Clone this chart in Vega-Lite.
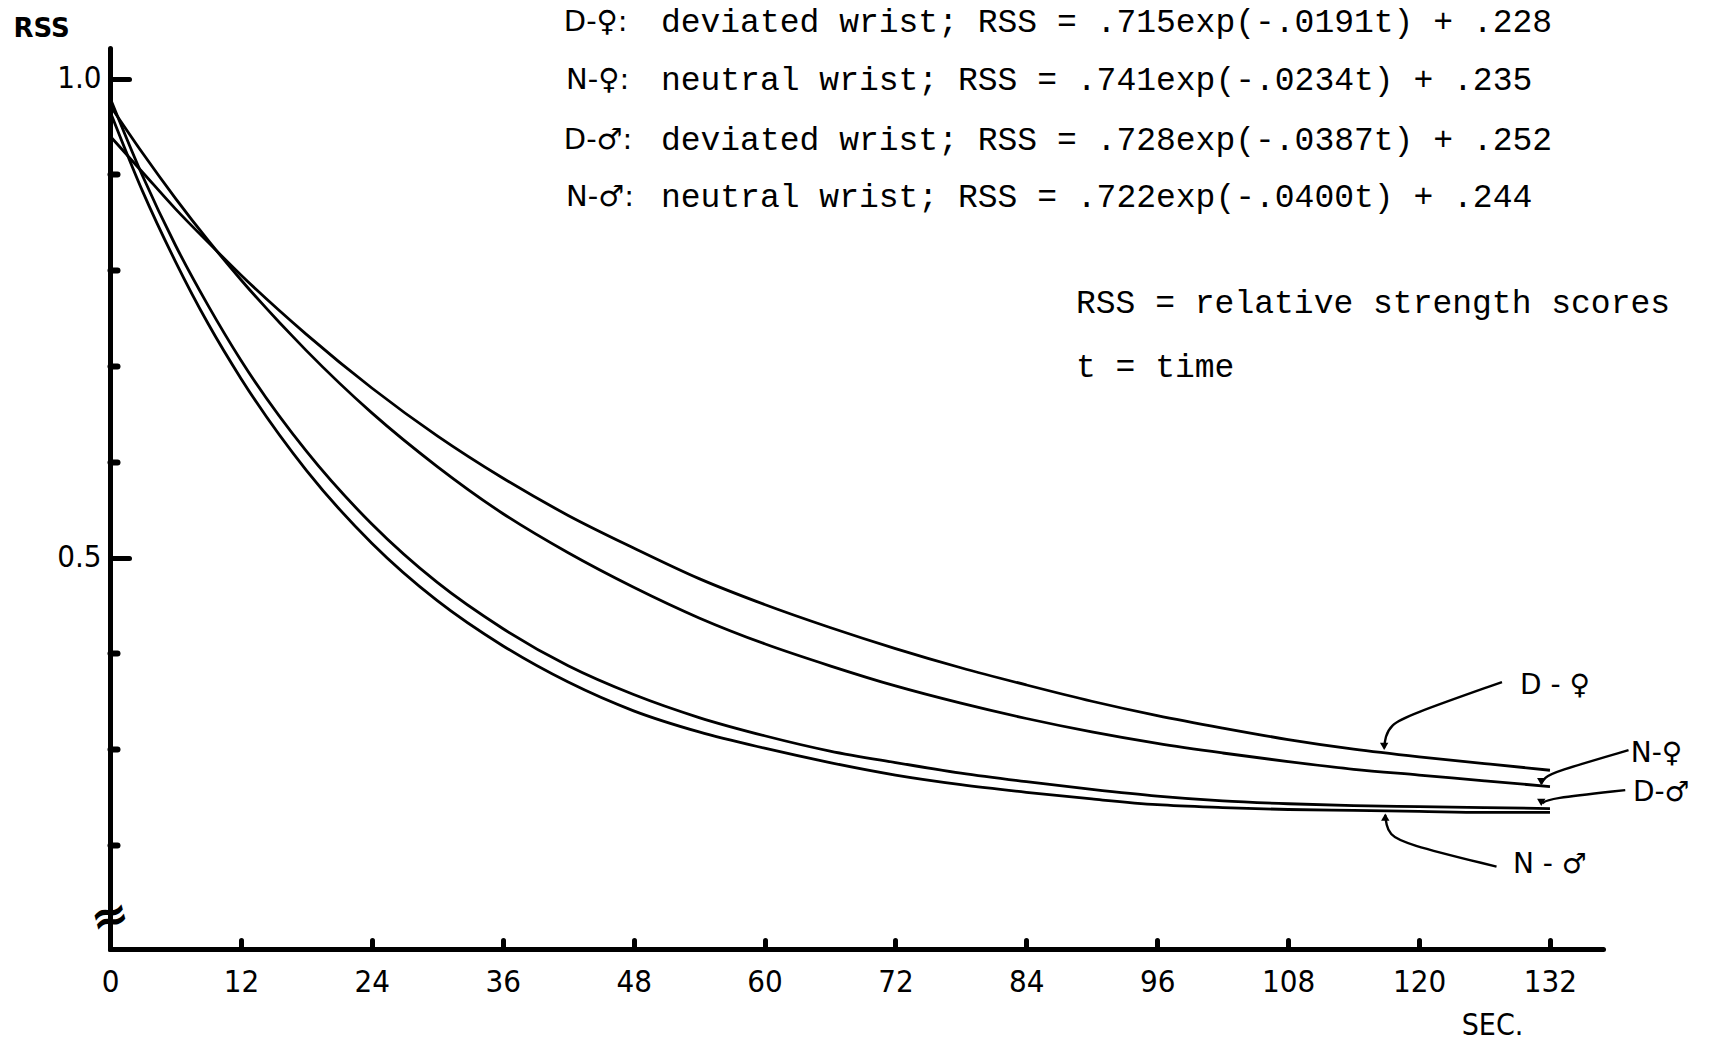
{
  "$schema": "https://vega.github.io/schema/vega-lite/v6.json",
  "autosize": {"type": "none"},
  "width": 1493,
  "height": 901,
  "padding": {"left": 110, "top": 48, "right": 108, "bottom": 92},
  "background": "white",
  "config": {"view": {"stroke": null}},
  "datasets": {
    "curves": [
      {"series": "D-F", "t": 0, "rss": 0.940}, {"series": "D-F", "t": 3, "rss": 0.902}, {"series": "D-F", "t": 6, "rss": 0.864}, {"series": "D-F", "t": 9, "rss": 0.829}, {"series": "D-F", "t": 12, "rss": 0.795}, {"series": "D-F", "t": 18, "rss": 0.733}, {"series": "D-F", "t": 24, "rss": 0.677}, {"series": "D-F", "t": 30, "rss": 0.627}, {"series": "D-F", "t": 36, "rss": 0.583}, {"series": "D-F", "t": 42, "rss": 0.544}, {"series": "D-F", "t": 48, "rss": 0.510}, {"series": "D-F", "t": 54, "rss": 0.478}, {"series": "D-F", "t": 60, "rss": 0.451}, {"series": "D-F", "t": 66, "rss": 0.427}, {"series": "D-F", "t": 72, "rss": 0.405}, {"series": "D-F", "t": 78, "rss": 0.385}, {"series": "D-F", "t": 84, "rss": 0.367}, {"series": "D-F", "t": 90, "rss": 0.350}, {"series": "D-F", "t": 96, "rss": 0.335}, {"series": "D-F", "t": 102, "rss": 0.322}, {"series": "D-F", "t": 108, "rss": 0.310}, {"series": "D-F", "t": 114, "rss": 0.300}, {"series": "D-F", "t": 120, "rss": 0.292}, {"series": "D-F", "t": 126, "rss": 0.285}, {"series": "D-F", "t": 132, "rss": 0.278},
      {"series": "N-F", "t": 0, "rss": 0.972}, {"series": "N-F", "t": 3, "rss": 0.922}, {"series": "N-F", "t": 6, "rss": 0.875}, {"series": "N-F", "t": 9, "rss": 0.831}, {"series": "N-F", "t": 12, "rss": 0.790}, {"series": "N-F", "t": 18, "rss": 0.716}, {"series": "N-F", "t": 24, "rss": 0.651}, {"series": "N-F", "t": 30, "rss": 0.595}, {"series": "N-F", "t": 36, "rss": 0.546}, {"series": "N-F", "t": 42, "rss": 0.505}, {"series": "N-F", "t": 48, "rss": 0.469}, {"series": "N-F", "t": 54, "rss": 0.437}, {"series": "N-F", "t": 60, "rss": 0.410}, {"series": "N-F", "t": 66, "rss": 0.387}, {"series": "N-F", "t": 72, "rss": 0.366}, {"series": "N-F", "t": 78, "rss": 0.348}, {"series": "N-F", "t": 84, "rss": 0.332}, {"series": "N-F", "t": 90, "rss": 0.318}, {"series": "N-F", "t": 96, "rss": 0.306}, {"series": "N-F", "t": 102, "rss": 0.296}, {"series": "N-F", "t": 108, "rss": 0.287}, {"series": "N-F", "t": 114, "rss": 0.279}, {"series": "N-F", "t": 120, "rss": 0.273}, {"series": "N-F", "t": 126, "rss": 0.267}, {"series": "N-F", "t": 132, "rss": 0.261},
      {"series": "D-M", "t": 0, "rss": 0.980}, {"series": "D-M", "t": 3, "rss": 0.898}, {"series": "D-M", "t": 6, "rss": 0.826}, {"series": "D-M", "t": 9, "rss": 0.763}, {"series": "D-M", "t": 12, "rss": 0.706}, {"series": "D-M", "t": 18, "rss": 0.611}, {"series": "D-M", "t": 24, "rss": 0.535}, {"series": "D-M", "t": 30, "rss": 0.474}, {"series": "D-M", "t": 36, "rss": 0.426}, {"series": "D-M", "t": 42, "rss": 0.387}, {"series": "D-M", "t": 48, "rss": 0.357}, {"series": "D-M", "t": 54, "rss": 0.333}, {"series": "D-M", "t": 60, "rss": 0.314}, {"series": "D-M", "t": 66, "rss": 0.298}, {"series": "D-M", "t": 72, "rss": 0.286}, {"series": "D-M", "t": 78, "rss": 0.275}, {"series": "D-M", "t": 84, "rss": 0.266}, {"series": "D-M", "t": 90, "rss": 0.258}, {"series": "D-M", "t": 96, "rss": 0.251}, {"series": "D-M", "t": 102, "rss": 0.246}, {"series": "D-M", "t": 108, "rss": 0.243}, {"series": "D-M", "t": 114, "rss": 0.241}, {"series": "D-M", "t": 120, "rss": 0.240}, {"series": "D-M", "t": 126, "rss": 0.239}, {"series": "D-M", "t": 132, "rss": 0.238},
      {"series": "N-M", "t": 0, "rss": 0.966}, {"series": "N-M", "t": 3, "rss": 0.882}, {"series": "N-M", "t": 6, "rss": 0.809}, {"series": "N-M", "t": 9, "rss": 0.744}, {"series": "N-M", "t": 12, "rss": 0.687}, {"series": "N-M", "t": 18, "rss": 0.591}, {"series": "N-M", "t": 24, "rss": 0.515}, {"series": "N-M", "t": 30, "rss": 0.455}, {"series": "N-M", "t": 36, "rss": 0.408}, {"series": "N-M", "t": 42, "rss": 0.370}, {"series": "N-M", "t": 48, "rss": 0.340}, {"series": "N-M", "t": 54, "rss": 0.318}, {"series": "N-M", "t": 60, "rss": 0.301}, {"series": "N-M", "t": 66, "rss": 0.286}, {"series": "N-M", "t": 72, "rss": 0.273}, {"series": "N-M", "t": 78, "rss": 0.263}, {"series": "N-M", "t": 84, "rss": 0.255}, {"series": "N-M", "t": 90, "rss": 0.248}, {"series": "N-M", "t": 96, "rss": 0.242}, {"series": "N-M", "t": 102, "rss": 0.239}, {"series": "N-M", "t": 108, "rss": 0.237}, {"series": "N-M", "t": 114, "rss": 0.236}, {"series": "N-M", "t": 120, "rss": 0.235}, {"series": "N-M", "t": 126, "rss": 0.234}, {"series": "N-M", "t": 132, "rss": 0.234}
    ],
    "leaders": [
      {"leader": "D-♀", "k": 1, "t": 127.6, "rss": 0.370}, {"leader": "D-♀", "k": 2, "t": 118.9, "rss": 0.335}, {"leader": "D-♀", "k": 3, "t": 117.4, "rss": 0.325}, {"leader": "D-♀", "k": 4, "t": 116.9, "rss": 0.313}, {"leader": "D-♀", "k": 5, "t": 116.8, "rss": 0.301},
      {"leader": "N-♀", "k": 1, "t": 139.2, "rss": 0.299}, {"leader": "N-♀", "k": 2, "t": 132.3, "rss": 0.276}, {"leader": "N-♀", "k": 3, "t": 131.5, "rss": 0.270}, {"leader": "N-♀", "k": 4, "t": 131.2, "rss": 0.264},
      {"leader": "D-♂", "k": 1, "t": 138.9, "rss": 0.2573}, {"leader": "D-♂", "k": 2, "t": 131.8, "rss": 0.2485}, {"leader": "D-♂", "k": 3, "t": 131.3, "rss": 0.2434},
      {"leader": "N-♂", "k": 1, "t": 127.1, "rss": 0.1774}, {"leader": "N-♂", "k": 2, "t": 118.5, "rss": 0.2015}, {"leader": "N-♂", "k": 3, "t": 117.3, "rss": 0.2115}, {"leader": "N-♂", "k": 4, "t": 117.0, "rss": 0.221}, {"leader": "N-♂", "k": 5, "t": 116.9, "rss": 0.2313}
    ],
    "arrows": [
      {"leader": "D-♀", "t": 116.8, "rss": 0.303},
      {"leader": "N-♀", "t": 131.2, "rss": 0.266},
      {"leader": "D-♂", "t": 131.2, "rss": 0.2445},
      {"leader": "N-♂", "t": 116.9, "rss": 0.229}
    ],
    "prefixes": [
      {"text": "D-♀:", "t": 41.6, "rss": 1.0593},
      {"text": "N-♀:", "t": 41.8, "rss": 0.9989},
      {"text": "D-♂:", "t": 41.6, "rss": 0.9363},
      {"text": "N-♂:", "t": 41.8, "rss": 0.8760}
    ],
    "equations": [
      {"text": "deviated wrist; RSS = .715exp(-.0191t) + .228", "t": 50.5, "rss": 1.0593},
      {"text": "neutral wrist; RSS = .741exp(-.0234t) + .235", "t": 50.5, "rss": 0.9989},
      {"text": "deviated wrist; RSS = .728exp(-.0387t) + .252", "t": 50.5, "rss": 0.9363},
      {"text": "neutral wrist; RSS = .722exp(-.0400t) + .244", "t": 50.5, "rss": 0.8760},
      {"text": "RSS = relative strength scores", "t": 88.55, "rss": 0.7653},
      {"text": "t = time", "t": 88.55, "rss": 0.6994}
    ],
    "labels": [
      {"text": "D - ♀", "t": 129.25, "rss": 0.3663},
      {"text": "N-♀", "t": 139.4, "rss": 0.295},
      {"text": "D-♂", "t": 139.6, "rss": 0.2545},
      {"text": "N - ♂", "t": 128.6, "rss": 0.179}
    ],
    "breaks": [
      {"text": "≈", "t": 0, "rss": 0.1243}
    ]
  },
  "encoding": {
    "x": {
      "field": "t",
      "type": "quantitative",
      "scale": {"domain": [0, 136.86], "nice": false, "zero": false},
      "axis": {
        "values": [0, 12, 24, 36, 48, 60, 72, 84, 96, 108, 120, 132],
        "grid": false,
        "domainColor": "#000",
        "domainWidth": 5,
        "domainCap": "round",
        "tickColor": "#000",
        "tickSize": -9,
        "tickWidth": 5,
        "tickCap": "round",
        "labelFont": "Liberation Sans Narrow, DejaVu Sans Condensed, DejaVu Sans",
        "labelFontSize": 31,
        "labelColor": "#000",
        "labelPadding": 27,
        "labelFlush": false,
        "title": "SEC.",
        "titleFont": "Liberation Sans Narrow, DejaVu Sans Condensed, DejaVu Sans",
        "titleFontSize": 30,
        "titleFontWeight": "normal",
        "titleColor": "#000",
        "titleX": 1382,
        "titleY": 76,
        "titleAlign": "center",
        "titleBaseline": "middle"
      }
    },
    "y": {
      "field": "rss",
      "type": "quantitative",
      "scale": {"domain": [0.0914, 1.0319], "nice": false, "zero": false},
      "axis": {
        "values": [0.2, 0.3, 0.4, 0.5, 0.6, 0.7, 0.8, 0.9, 1.0],
        "grid": false,
        "domainColor": "#000",
        "domainWidth": 5,
        "domainCap": "round",
        "tickColor": "#000",
        "tickSize": {"condition": {"test": "abs(datum.value - 0.5) < 0.001 || abs(datum.value - 1) < 0.001", "value": -19}, "value": -7},
        "tickWidth": {"condition": {"test": "abs(datum.value - 0.5) < 0.001 || abs(datum.value - 1) < 0.001", "value": 5}, "value": 6},
        "tickCap": "round",
        "labelExpr": "abs(datum.value - 0.5) < 0.001 || abs(datum.value - 1) < 0.001 ? format(datum.value, '.1f') : ''",
        "labelFont": "Liberation Sans Narrow, DejaVu Sans Condensed, DejaVu Sans",
        "labelFontSize": 31,
        "labelColor": "#000",
        "labelPadding": 28,
        "labelBaseline": "middle",
        "labelFlush": false,
        "title": "RSS",
        "titleFont": "DejaVu Sans",
        "titleFontSize": 26,
        "titleFontWeight": 600,
        "titleColor": "#000",
        "titleAngle": 0,
        "titleX": -97,
        "titleY": -20,
        "titleAlign": "left",
        "titleBaseline": "middle"
      }
    }
  },
  "layer": [
    {
      "data": {"name": "curves"},
      "mark": {"type": "line", "interpolate": "monotone", "color": "#000", "strokeWidth": 2.8},
      "encoding": {"detail": {"field": "series"}}
    },
    {
      "data": {"name": "leaders"},
      "mark": {"type": "line", "interpolate": "basis", "color": "#000", "strokeWidth": 2.4},
      "encoding": {"detail": {"field": "leader"}, "order": {"field": "k", "type": "quantitative"}}
    },
    {
      "data": {"name": "arrows"},
      "transform": [{"filter": "datum.leader != 'N-♂'"}],
      "mark": {"type": "point", "shape": "triangle-down", "filled": true, "color": "#000", "size": 70, "opacity": 1}
    },
    {
      "data": {"name": "arrows"},
      "transform": [{"filter": "datum.leader == 'N-♂'"}],
      "mark": {"type": "point", "shape": "triangle-up", "filled": true, "color": "#000", "size": 70, "opacity": 1}
    },
    {
      "data": {"name": "prefixes"},
      "mark": {"type": "text", "align": "left", "baseline": "middle", "font": "DejaVu Sans", "fontSize": 29, "color": "#000"},
      "encoding": {"text": {"field": "text"}}
    },
    {
      "data": {"name": "equations"},
      "mark": {"type": "text", "align": "left", "baseline": "middle", "font": "Liberation Mono", "fontSize": 33, "color": "#000"},
      "encoding": {"text": {"field": "text"}}
    },
    {
      "data": {"name": "labels"},
      "mark": {"type": "text", "align": "left", "baseline": "middle", "font": "DejaVu Sans", "fontSize": 28, "color": "#000"},
      "encoding": {"text": {"field": "text"}}
    },
    {
      "data": {"name": "breaks"},
      "mark": {"type": "text", "align": "center", "baseline": "middle", "font": "DejaVu Sans", "fontSize": 46, "fontWeight": "bold", "angle": -15, "color": "#000"},
      "encoding": {"text": {"field": "text"}}
    }
  ]
}
